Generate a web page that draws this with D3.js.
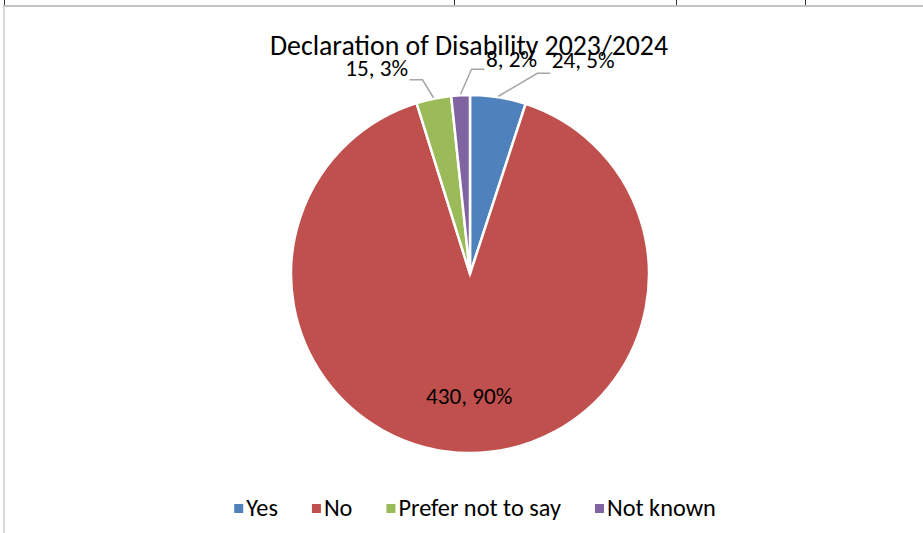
<!DOCTYPE html>
<html>
<head>
<meta charset="utf-8">
<script src="https://cdn.jsdelivr.net/npm/d3@7"></script>
<style>
  body { margin: 0; background: #fff; }
  svg text { font-family: Carlito, Calibri, Lato, sans-serif; fill: #000; }
</style>
</head>
<body>
<div id="graph"></div>
<script>
// chart data
const title = 'Declaration of Disability 2023/2024';
const categories = ['Yes', 'No', 'Prefer not to say', 'Not known'];
const counts = [24, 430, 15, 8];
const percents = ['5%', '90%', '3%', '2%'];
const colors = ['#4F81BD', '#C0504D', '#9BBB59', '#8064A2'];

// where the outside labels go: elbow offset from the slice edge, which side the text sits
const outsideLabels = {
    'Yes': { dx: 39, dy: -23, side: 1, tdy: -5 },
    'Prefer not to say': { dx: -11, dy: -18, side: -1, tdy: -4 },
    'Not known': { dx: 11, dy: -25, side: 1, tdy: -2 }
};

const width = 923;
const height = 533;
const cx = 470, cy = 274, radius = 179;

const svg = d3.select('div#graph')
    .append('svg')
        .attr('width', width)
        .attr('height', height);

// bits of the table border around the chart
svg.append('line')
    .attr('x1', 3).attr('x2', width).attr('y1', 6).attr('y2', 6)
    .attr('stroke', '#c4c4c4').attr('stroke-width', 2);
svg.append('line')
    .attr('x1', 4).attr('x2', 4).attr('y1', 7).attr('y2', height)
    .attr('stroke', '#d9d9d9').attr('stroke-width', 2);
[4.5, 454.5, 676.5, 805.5].forEach(x => {
    svg.append('line')
        .attr('x1', x).attr('x2', x).attr('y1', 0).attr('y2', 5)
        .attr('stroke', '#333').attr('stroke-width', 1);
});

svg.append('text')
    .attr('x', 469)
    .attr('y', 55)
    .attr('text-anchor', 'middle')
    .style('font-size', '27.8px')
    .text(title);

const data = categories.map((c, i) => ({ name: c, value: counts[i], pct: percents[i], color: colors[i] }));

const pie = d3.pie().sort(null).value(d => d.value);
const arcs = pie(data);

const arc = d3.arc().innerRadius(0).outerRadius(radius);
const edgeArc = d3.arc().innerRadius(radius + 1).outerRadius(radius + 1);
const insideArc = d3.arc().innerRadius(radius * 0.69).outerRadius(radius * 0.69);

const g = svg.append('g')
    .attr('transform', `translate(${cx},${cy})`);

g.selectAll('path.slice')
    .data(arcs).enter()
    .append('path')
        .attr('class', 'slice')
        .attr('d', arc)
        .attr('fill', d => d.data.color)
        .attr('stroke', '#fff')
        .attr('stroke-width', 2.5)
        .attr('stroke-linejoin', 'miter');

// labels
arcs.forEach(d => {
    const txt = `${d.data.value}, ${d.data.pct}`;
    const o = outsideLabels[d.data.name];
    if (!o) {
        const [x, y] = insideArc.centroid(d);
        g.append('text')
            .attr('x', x)
            .attr('y', y + 6)
            .attr('text-anchor', 'middle')
            .style('font-size', '23.2px')
            .text(txt);
        return;
    }
    const [x0, y0] = edgeArc.centroid(d);
    const x1 = x0 + o.dx, y1 = y0 + o.dy;
    const x2 = x1 + 13 * o.side;
    g.append('polyline')
        .attr('points', [[x0, y0], [x1, y1], [x2, y1]].join(' '))
        .attr('fill', 'none')
        .attr('stroke', '#a6a6a6')
        .attr('stroke-width', 1.5);
    g.append('text')
        .attr('x', x2 + 1.5 * o.side)
        .attr('y', y1 + o.tdy)
        .attr('text-anchor', o.side > 0 ? 'start' : 'end')
        .style('font-size', '23.2px')
        .text(txt);
});

// legend
const legend = svg.append('g');
let lx = 0;
data.forEach(d => {
    const item = legend.append('g').attr('transform', `translate(${lx},0)`);
    item.append('rect')
        .attr('x', 0).attr('y', -12)
        .attr('width', 9).attr('height', 9)
        .attr('fill', d.color);
    const t = item.append('text')
        .attr('x', 12)
        .attr('y', 0)
        .style('font-size', '24.3px')
        .text(d.name);
    lx += 12 + t.node().getComputedTextLength() + 34;
});
const legendWidth = lx - 34;
legend.attr('transform', `translate(${475 - legendWidth / 2},516)`);
</script>
</body>
</html>
